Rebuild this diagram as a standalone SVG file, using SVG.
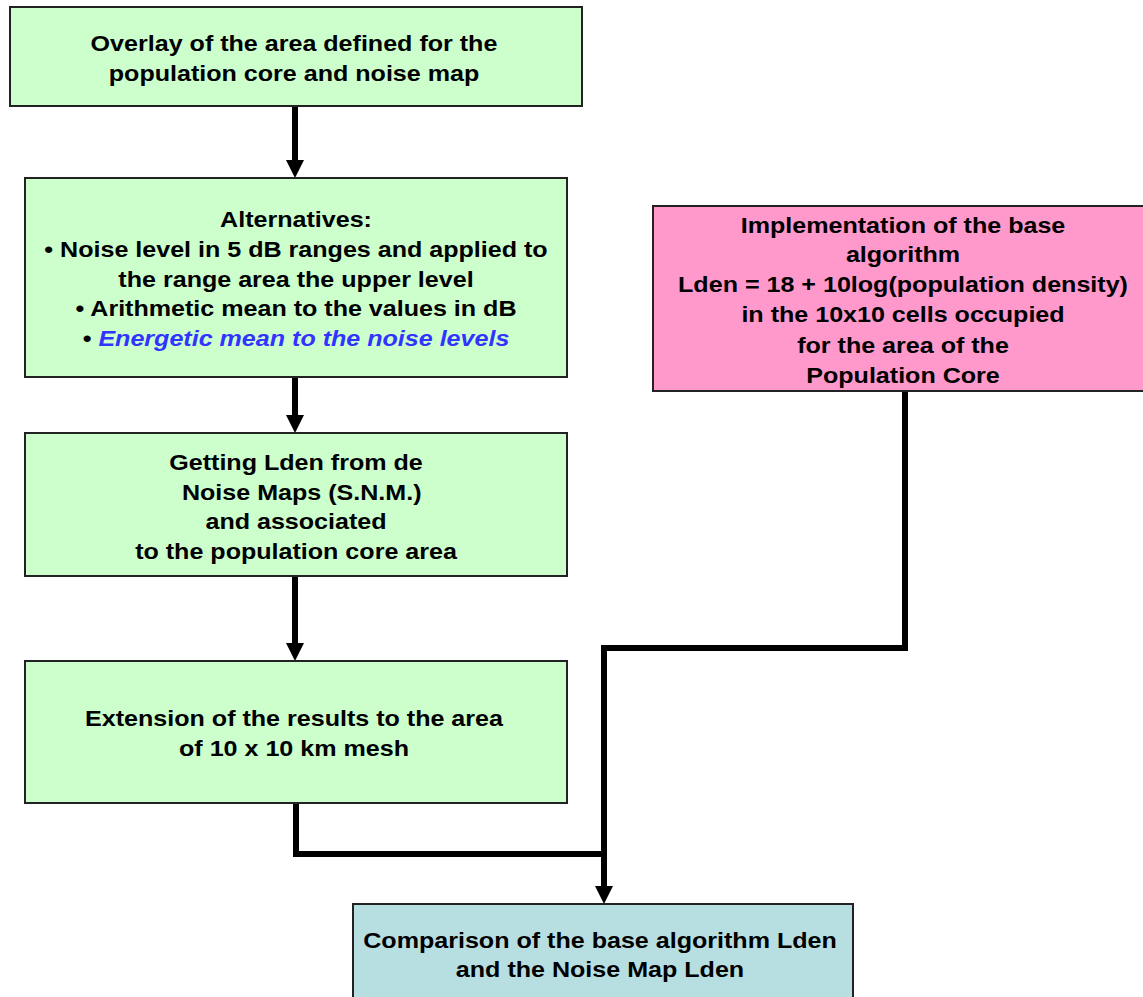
<svg xmlns="http://www.w3.org/2000/svg" width="1143" height="997" viewBox="0 0 1143 997">
<defs>
<style>
.box{stroke:#222;stroke-width:2}
.g{fill:#CCFFCC}
.p{fill:#FF99CC}
.b{fill:#B7DFE2}
text{font-family:"Liberation Sans",Arial,sans-serif;font-weight:bold;font-size:22px;fill:#000;text-anchor:middle}
.blue{fill:#3333FF;font-style:italic}
.c{fill:none;stroke:#000;stroke-width:6}
</style>
</defs>
<rect width="1143" height="997" fill="#fff"/>
<g id="connectors">
<path class="c" d="M295,106 V161"/>
<path d="M286,160 L304,160 L295,178 Z" fill="#000"/>
<path class="c" d="M295,377 V416"/>
<path d="M286,415 L304,415 L295,433 Z" fill="#000"/>
<path class="c" d="M295,576 V644"/>
<path d="M286,643 L304,643 L295,661 Z" fill="#000"/>
<path class="c" d="M296,803 V854 H604"/>
<path class="c" d="M905,391 V648 H604 V887"/>
<path d="M595,886 L613,886 L604,904 Z" fill="#000"/>
</g>
<g id="n1">
<rect class="box g" x="10" y="7" width="572" height="99"/>
<g transform="translate(294,0) scale(1.14,1)">
<text x="0" y="51">Overlay of the area defined for the</text>
<text x="0" y="81">population core and noise map</text>
</g>
</g>
<g id="n2">
<rect class="box g" x="25" y="178" width="542" height="199"/>
<g transform="translate(296,0) scale(1.14,1)">
<text x="0" y="227">Alternatives:</text>
<text x="0" y="257">• Noise level in 5 dB ranges and applied to</text>
<text x="0" y="287">the range area the upper level</text>
<text x="0" y="316">• Arithmetic mean to the values in dB</text>
<text x="0" y="346">• <tspan class="blue">Energetic mean to the noise levels</tspan></text>
</g>
</g>
<g id="n3">
<rect class="box g" x="25" y="433" width="542" height="143"/>
<g transform="translate(296,0) scale(1.14,1)">
<text x="0" y="470">Getting Lden from de</text>
<text x="5" y="500">Noise Maps (S.N.M.)</text>
<text x="0" y="529">and associated</text>
<text x="0" y="559">to the population core area</text>
</g>
</g>
<g id="n4">
<rect class="box g" x="25" y="661" width="542" height="142"/>
<g transform="translate(294,0) scale(1.14,1)">
<text x="0" y="726">Extension of the results to the area</text>
<text x="0" y="756">of 10 x 10 km mesh</text>
</g>
</g>
<g id="n5">
<rect class="box p" x="653" y="206" width="510" height="185"/>
<g transform="translate(903,0) scale(1.14,1)">
<text x="0" y="233">Implementation of the base</text>
<text x="0" y="262">algorithm</text>
<text x="0" y="292">Lden = 18 + 10log(population density)</text>
<text x="0" y="322">in the 10x10 cells occupied</text>
<text x="0" y="353">for the area of the</text>
<text x="0" y="383">Population Core</text>
</g>
</g>
<g id="n6">
<rect class="box b" x="353" y="904" width="500" height="110"/>
<g transform="translate(600,0) scale(1.14,1)">
<text x="0" y="948">Comparison of the base algorithm Lden</text>
<text x="0" y="977">and the Noise Map Lden</text>
</g>
</g>
</svg>
